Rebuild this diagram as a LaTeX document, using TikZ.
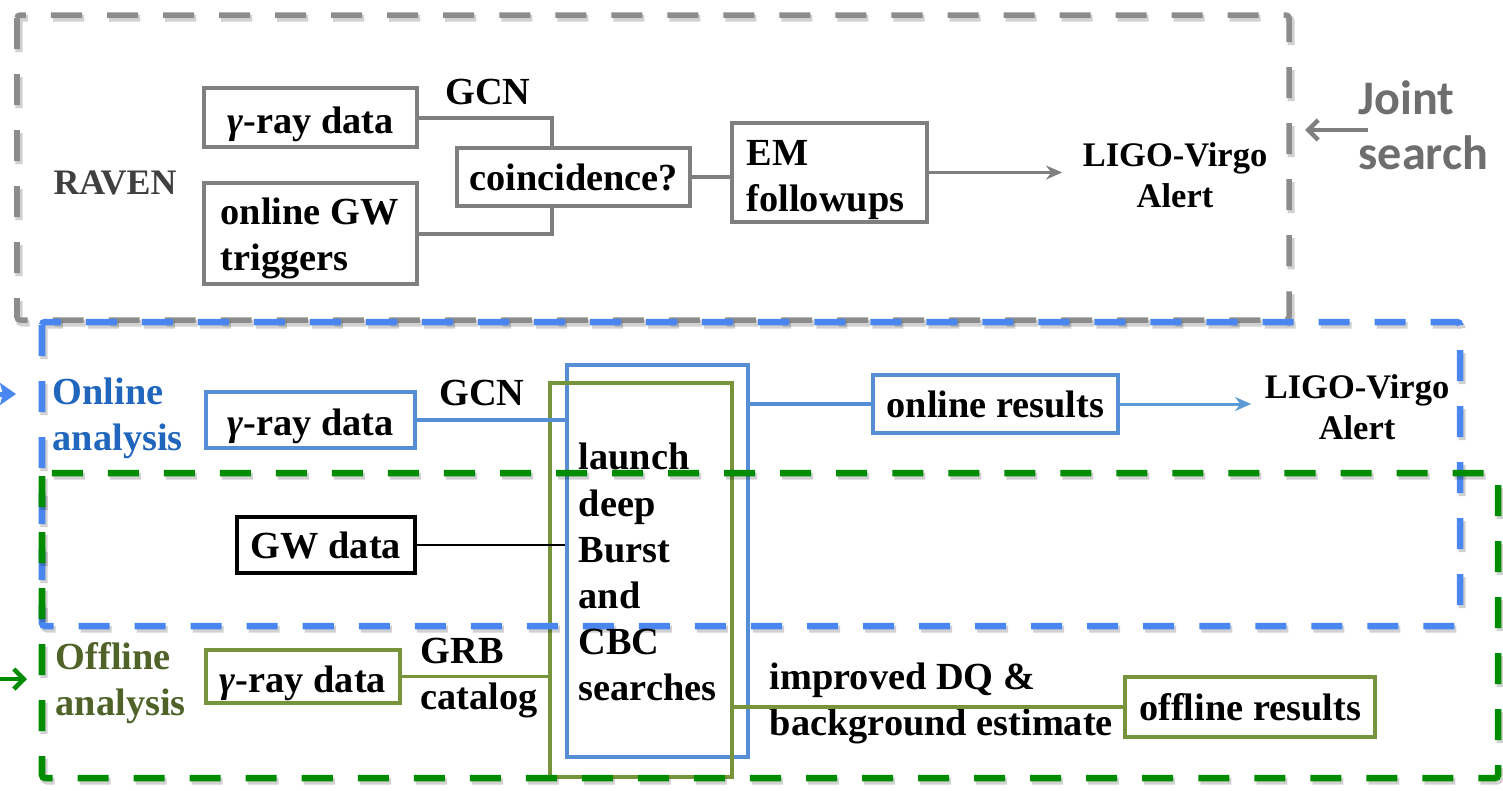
\documentclass[tikz,border=0pt]{standalone}
\usepackage{fontspec}
\setmainfont{Liberation Serif}
\newfontfamily\jsfont{Carlito}
\usetikzlibrary{arrows.meta}
\definecolor{boxgray}{HTML}{7F7F7F}
\definecolor{framegray}{HTML}{8C8C8C}
\definecolor{ravengray}{HTML}{404040}
\definecolor{jsgray}{HTML}{6E6E6E}
\definecolor{frameblue}{HTML}{4A86F0}
\definecolor{boxblue}{HTML}{558ED5}
\definecolor{arrowblue}{HTML}{5B9BD5}
\definecolor{onlineblue}{HTML}{1F66BC}
\definecolor{framegreen}{HTML}{008C00}
\definecolor{olive}{HTML}{77933C}
\definecolor{offolive}{HTML}{4F6228}
\tikzset{
  txt/.style={font=\bfseries\fontsize{10.9}{13.1}\selectfont, inner sep=0pt},
  smalltxt/.style={font=\bfseries\fontsize{9.8}{11.6}\selectfont, inner sep=0pt, align=center},
  gam/.style={text height=11pt, text depth=2pt},
  graybox/.style={txt, draw=boxgray, line width=0.04cm, fill=white, align=left},
  bluebox/.style={txt, draw=boxblue, line width=0.04cm, fill=white, align=left},
  olivebox/.style={txt, draw=olive, line width=0.04cm, fill=white, align=left},
  blackbox/.style={txt, draw=black, line width=0.04cm, fill=white, align=left},
  tallbox/.style={draw=#1, line width=0.04cm, inner sep=0pt},
  grayconn/.style={draw=boxgray, line width=0.04cm},
  blueconn/.style={draw=boxblue, line width=0.035cm},
  oliveconn/.style={draw=olive, line width=0.035cm},
  frame/.style={draw=#1, line width=0.065cm, dash pattern=on 0.31cm off 0.25cm, rounded corners=0.03cm},
  frameshadow/.style={draw=black, draw opacity=0.18, line width=0.07cm, dash pattern=on 0.31cm off 0.25cm, rounded corners=0.03cm, xshift=0.02cm, yshift=-0.03cm},
}
\begin{document}
\begin{tikzpicture}[x=0.01cm, y=-0.01cm]
\useasboundingbox (0,0) rectangle (1503,790);

% ---------- RAVEN (gray) ----------
\node[graybox, gam, minimum width=2.13cm, minimum height=0.59cm] (g1) at (310.5,117.5) {{\itshape γ}-ray data};
\node[graybox, minimum width=2.13cm, minimum height=1.01cm] (trig) at (310.5,233.5) {};
\node[txt, anchor=west, align=left] (trigtxt) at (220,238) {online GW\\triggers};
\node[graybox, minimum width=2.33cm, minimum height=0.58cm] (coinc) at (573.5,177) {coincidence?};
\node[graybox, minimum width=1.95cm, minimum height=0.99cm] (em) at (829.5,172.5) {};
\node[txt, anchor=west, align=left] (emtxt) at (746,180) {EM\\followups};
\node[txt] (gcn1) at (488,92) {GCN};
\node[txt, font=\bfseries\fontsize{10.2}{12}\selectfont, text=ravengray] (raven) at (115,183) {RAVEN};
\node[smalltxt] (alert1) at (1175,175) {LIGO-Virgo\\Alert};

\draw[grayconn] (g1.east) -| ([xshift=-0.215cm]coinc.north);
\draw[grayconn] (trig.east) -| ([xshift=-0.215cm]coinc.south);
\draw[grayconn] (coinc.east) -- (coinc.east -| em.west);
\draw[draw=boxgray, line width=0.03cm, -{Stealth[length=0.16cm, width=0.14cm]}, shorten >=0.2cm] (em.east) -- (em.east -| alert1.west);

% ---------- Online (blue) ----------
\node[tallbox=boxblue, minimum width=1.81cm, minimum height=3.92cm] (bluetall) at (657.5,561) {};
\node[tallbox=olive, minimum width=1.82cm, minimum height=3.94cm] (olivetall) at (641,580) {};
\node[bluebox, gam, minimum width=2.09cm, minimum height=0.56cm] (bg) at (310.5,420) {{\itshape γ}-ray data};
\node[bluebox, minimum width=2.45cm, minimum height=0.58cm] (onres) at (995.5,404) {online results};
\node[txt] (gcn2) at (482,393) {GCN};
\node[smalltxt] (alert2) at (1357,407) {LIGO-Virgo\\Alert};
\node[txt, anchor=west, align=left, text=onlineblue] (onl) at (52,418) {Online\\analysis};

\draw[blueconn] (bg.east) -- (bg.east -| bluetall.west);
\draw[blueconn] (bluetall.east |- onres.west) -- (onres.west);
\draw[draw=arrowblue, line width=0.03cm, -{Stealth[length=0.16cm, width=0.14cm]}, shorten >=0.13cm] (onres.east) -- (onres.east -| alert2.west);

% ---------- GW data ----------
\node[blackbox, minimum width=1.78cm, minimum height=0.56cm] (gwd) at (326,545) {GW data};
\draw[black, line width=0.025cm] (gwd.east) -- (gwd.east -| bluetall.west);

% ---------- Offline (green) ----------
\node[olivebox, gam, minimum width=1.94cm, minimum height=0.53cm] (og) at (303,676.5) {{\itshape γ}-ray data};
\node[olivebox, minimum width=2.50cm, minimum height=0.60cm] (offres) at (1250,707) {offline results};
\node[txt, anchor=west, align=left] (grb) at (420,678) {GRB\\catalog};
\node[txt, anchor=west, align=left] (imp) at (769,703) {improved DQ \&\\background estimate};
\node[txt, anchor=west, align=left, text=offolive] (offl) at (55,683) {Offline\\analysis};

\draw[oliveconn] (og.east) -- (og.east -| olivetall.west);
\draw[oliveconn] (olivetall.east |- offres.west) -- (offres.west);

% ---------- dashed frames ----------
\draw[frameshadow] (17,15) rectangle (1289,320);
\draw[frame=framegray, line width=0.055cm] (17,15) rectangle (1289,320);
\draw[frameshadow] (42,322) rectangle (1460,626);
\draw[frame=frameblue] (42,322) rectangle (1460,626);
\draw[frameshadow] (42,473) rectangle (1498,778);
\draw[frame=framegreen] (42,473) rectangle (1498,778);

% ---------- tall box text ----------
\node[txt, anchor=west, align=left] (launch) at (578,572) {launch\\deep\\Burst\\and\\CBC\\searches};

% ---------- side arrows ----------
\node[txt, font=\jsfont\bfseries\fontsize{13.7}{15.6}\selectfont, text=jsgray, anchor=west, align=left] (js) at (1358,125) {Joint\\search};
\coordinate (jsa) at (1368,130);
\coordinate (jsb) at (1305,130);
\draw[draw=boxgray, line width=0.045cm, -{Straight Barb[length=0.1cm, width=0.2cm]}] (jsa) -- (jsb);

\coordinate (ba0) at (-30,394);
\coordinate (ba1) at (16,394);
\draw[draw=frameblue, line width=0.05cm, -{Stealth[length=0.16cm, width=0.22cm, inset=0.03cm]}] (ba0) -- (ba1);

\coordinate (ga0) at (-10,679);
\coordinate (ga1) at (27,679);
\draw[draw=framegreen, line width=0.045cm, -{Straight Barb[length=0.1cm, width=0.2cm]}] (ga0) -- (ga1);
\end{tikzpicture}
\end{document}
